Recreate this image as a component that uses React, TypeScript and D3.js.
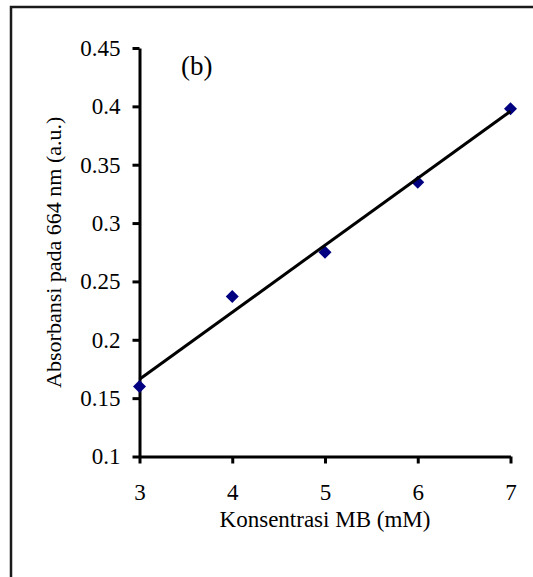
import React, { useEffect, useRef } from 'react';
import * as d3 from 'd3';

const concentrations = [3, 4, 5, 6, 7];
const absorbance = [0.16, 0.237, 0.275, 0.335, 0.398];
const xTicks = [3, 4, 5, 6, 7];
const yTicks = [0.1, 0.15, 0.2, 0.25, 0.3, 0.35, 0.4, 0.45];
const xTitle = 'Konsentrasi MB (mM)';
const yTitle = 'Absorbansi pada 664 nm (a.u.)';
const panelLabel = '(b)';

const W = 533;
const H = 577;
const FONT = "'Liberation Serif', serif";

export default function App() {
  const svgRef = useRef<SVGSVGElement | null>(null);

  useEffect(() => {
    const svg = d3.select(svgRef.current);
    svg.selectAll('*').remove();

    const x = d3.scaleLinear().domain([3, 7]).range([139.5, 510.5]);
    const y = d3.scaleLinear().domain([0.1, 0.45]).range([456.5, 48]);

    // outer frame (only top/left visible, rest is cropped)
    svg.append('rect')
      .attr('x', 11).attr('y', 7)
      .attr('width', 700).attr('height', 700)
      .attr('fill', 'none')
      .attr('stroke', '#1a1a1a')
      .attr('stroke-width', 2.5);

    // y axis
    const yAxis = d3.axisLeft(y)
      .tickValues(yTicks)
      .tickSize(7)
      .tickSizeOuter(0)
      .tickPadding(12)
      .tickFormat((d) => String(+d));
    const gy = svg.append('g')
      .attr('transform', `translate(${x(3)},0)`)
      .call(yAxis);

    // x axis
    const xAxis = d3.axisBottom(x)
      .tickValues(xTicks)
      .tickSize(7)
      .tickSizeOuter(0)
      .tickPadding(20)
      .tickFormat((d) => String(d));
    const gx = svg.append('g')
      .attr('transform', `translate(0,${y(0.1)})`)
      .call(xAxis);

    [gx, gy].forEach((g) => {
      g.attr('font-family', FONT).attr('font-size', 23);
      g.select('.domain').attr('stroke', '#000').attr('stroke-width', 3);
      g.selectAll('.tick line').attr('stroke', '#000').attr('stroke-width', 3);
      g.selectAll('.tick text').attr('fill', '#000');
    });

    // diamonds
    const diamond = d3.symbol().type(d3.symbolSquare).size(85);
    svg.append('g')
      .selectAll('path')
      .data(concentrations)
      .join('path')
      .attr('d', diamond)
      .attr('transform', (d, i) => `translate(${x(d)},${y(absorbance[i])}) rotate(45)`)
      .attr('fill', '#000080');

    // linear trendline from least squares
    const mx = d3.mean(concentrations) as number;
    const my = d3.mean(absorbance) as number;
    const slope =
      d3.sum(concentrations, (d, i) => (d - mx) * (absorbance[i] - my)) /
      d3.sum(concentrations, (d) => (d - mx) * (d - mx));
    const icpt = my - slope * mx;
    const ends = d3.extent(concentrations) as [number, number];
    const line = d3.line<number>()
      .x((d) => x(d))
      .y((d) => y(icpt + slope * d));
    svg.append('path')
      .datum(ends)
      .attr('d', line)
      .attr('fill', 'none')
      .attr('stroke', '#000')
      .attr('stroke-width', 3);

    // titles
    svg.append('text')
      .attr('x', (x(3) + x(7)) / 2)
      .attr('y', 527)
      .attr('text-anchor', 'middle')
      .attr('font-family', FONT)
      .attr('font-size', 23)
      .text(xTitle);

    svg.append('text')
      .attr('transform', `translate(61,${(y(0.1) + y(0.45)) / 2}) rotate(-90)`)
      .attr('text-anchor', 'middle')
      .attr('font-family', FONT)
      .attr('font-size', 22)
      .text(yTitle);

    svg.append('text')
      .attr('x', 181)
      .attr('y', 75)
      .attr('font-family', FONT)
      .attr('font-size', 27)
      .text(panelLabel);
  }, []);

  return (
    <svg
      ref={svgRef}
      width={W}
      height={H}
      style={{ position: 'absolute', left: 0, top: 0, display: 'block', background: '#fff' }}
    />
  );
}
